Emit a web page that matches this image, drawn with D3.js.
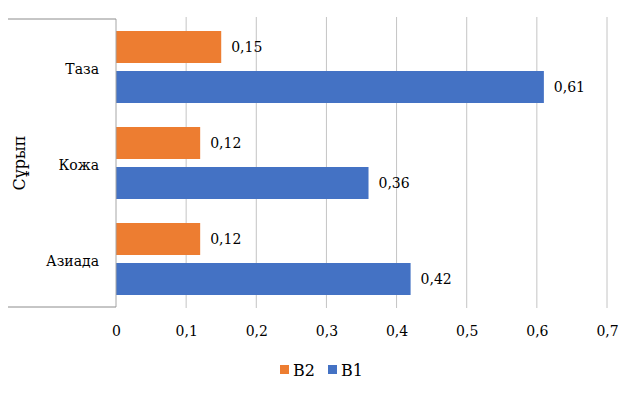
<!DOCTYPE html>
<html>
<head>
<meta charset="utf-8">
<script src="https://cdn.jsdelivr.net/npm/d3@7"></script>
<style>
  body { margin: 0; background: #fff; }
  svg text { font-family: 'DejaVu Serif', serif; fill: #000; }
</style>
</head>
<body>
<svg id="chart" width="638" height="397"></svg>
<script>
// data
const categories = ['Таза', 'Кожа', 'Азиада'];
const seriesNames = ['B2', 'B1'];
const valuesB2 = [0.15, 0.12, 0.12];
const valuesB1 = [0.61, 0.36, 0.42];
const xTicks = [0, 0.1, 0.2, 0.3, 0.4, 0.5, 0.6, 0.7];
const groupTitle = 'Сұрып';
const colors = {B2: '#ED7D31', B1: '#4472C4'};

const rows = categories.map((c, i) => ({cat: c, B2: valuesB2[i], B1: valuesB1[i]}));

const svg = d3.select('#chart');
const margin = {top: 19, left: 116, right: 31, bottom: 90};
const width = 638 - margin.left - margin.right;
const height = 397 - margin.top - margin.bottom;

const chart = svg.append('g')
    .attr('transform', `translate(${margin.left}, ${margin.top})`);

const xScale = d3.scaleLinear().domain([0, 0.7]).range([0, width]);
const yScale = d3.scaleBand().domain(categories).range([0, height])
    .paddingInner(0.25).paddingOuter(0.125);
const ySub = d3.scaleBand().domain(seriesNames).range([0, yScale.bandwidth()])
    .paddingInner(0.2);

const fmt = v => String(v).replace('.', ',');

// gridlines
chart.append('g')
    .selectAll('line')
    .data(xTicks.slice(1))
    .join('line')
    .attr('x1', d => xScale(d)).attr('x2', d => xScale(d))
    .attr('y1', -2).attr('y2', height + 1)
    .attr('stroke', '#c4c4c4').attr('stroke-width', 1);

// x tick labels
const xAxis = d3.axisBottom(xScale).tickValues(xTicks).tickFormat(fmt).tickSize(0).tickPadding(19);
const xg = chart.append('g').attr('transform', `translate(0, ${height})`).call(xAxis);
xg.attr('font-family', null).attr('font-size', 14);
xg.select('.domain').remove();

// bars
const groups = chart.selectAll('.grp')
    .data(rows)
    .join('g')
    .attr('class', 'grp')
    .attr('transform', d => `translate(0, ${yScale(d.cat)})`);

groups.selectAll('rect')
    .data(d => seriesNames.map(s => ({s, v: d[s]})))
    .join('rect')
    .attr('x', 0)
    .attr('y', d => ySub(d.s))
    .attr('width', d => xScale(d.v))
    .attr('height', ySub.bandwidth())
    .attr('fill', d => colors[d.s]);

groups.selectAll('text.val')
    .data(d => seriesNames.map(s => ({s, v: d[s]})))
    .join('text')
    .attr('class', 'val')
    .attr('x', d => xScale(d.v) + 10)
    .attr('y', d => ySub(d.s) + ySub.bandwidth() / 2)
    .attr('dy', '0.35em')
    .attr('font-size', 14)
    .text(d => fmt(d.v));

// category axis
chart.append('line')
    .attr('x1', 0).attr('x2', 0).attr('y1', 0).attr('y2', height)
    .attr('stroke', '#a6a6a6');
chart.append('line')
    .attr('x1', -108).attr('x2', 0).attr('y1', 0).attr('y2', 0)
    .attr('stroke', '#8c8c8c');
chart.append('line')
    .attr('x1', -108).attr('x2', 0).attr('y1', height).attr('y2', height)
    .attr('stroke', '#8c8c8c');

chart.selectAll('text.cat')
    .data(categories)
    .join('text')
    .attr('class', 'cat')
    .attr('x', -17)
    .attr('y', d => yScale(d) + yScale.bandwidth() / 2 + 2)
    .attr('dy', '0.35em')
    .attr('text-anchor', 'end')
    .attr('font-size', 14)
    .text(d => d);

svg.append('text')
    .attr('transform', `translate(25, ${margin.top + height / 2}) rotate(-90)`)
    .attr('text-anchor', 'middle')
    .attr('font-size', 16)
    .text(groupTitle);

// legend
const legend = svg.append('g').attr('transform', 'translate(280, 370)');
const legItems = legend.selectAll('g')
    .data(seriesNames)
    .join('g')
    .attr('transform', (d, i) => `translate(${i * 48}, 0)`);
legItems.append('rect')
    .attr('x', 0).attr('y', -5).attr('width', 9).attr('height', 9)
    .attr('fill', d => colors[d]);
legItems.append('text')
    .attr('x', 13).attr('y', 0).attr('dy', '0.35em')
    .attr('font-size', 16)
    .text(d => d);
</script>
</body>
</html>
